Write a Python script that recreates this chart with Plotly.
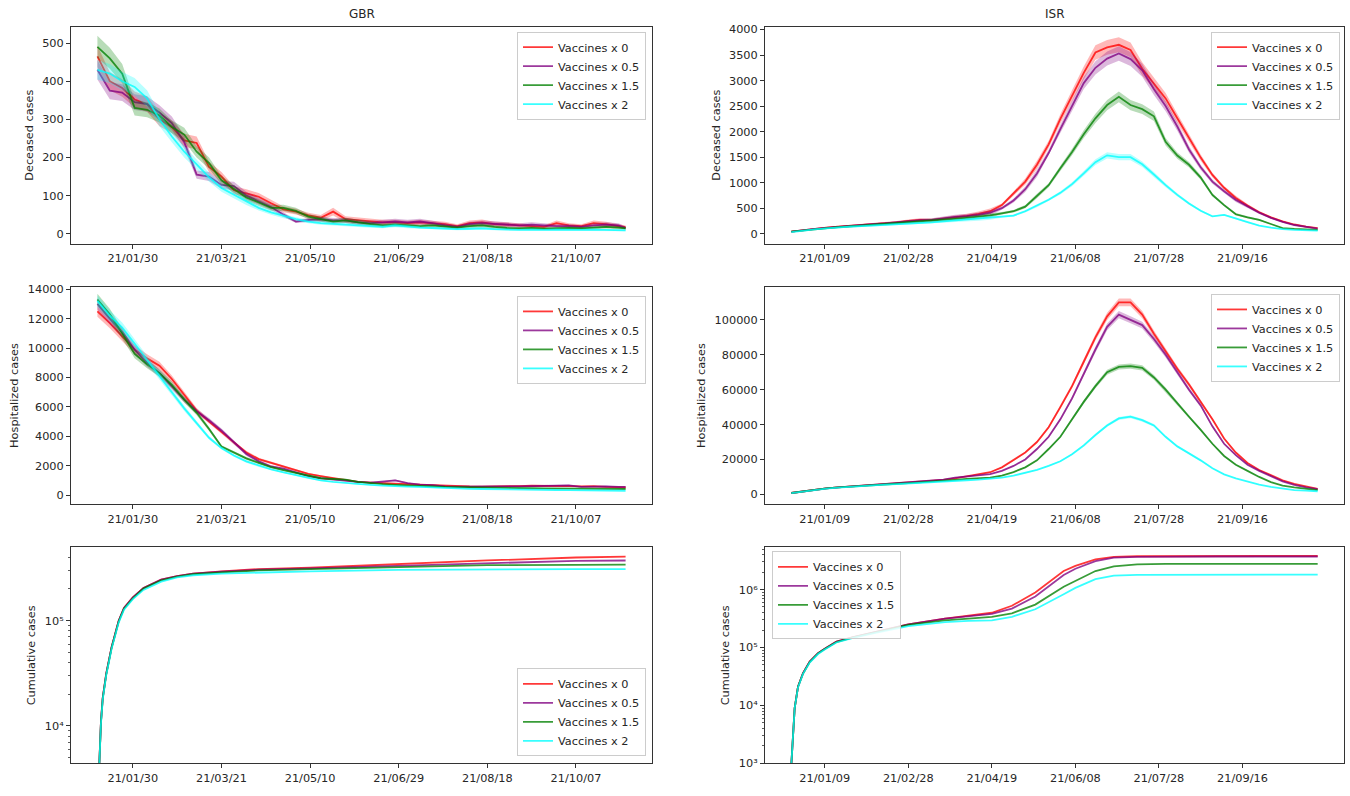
import math
import plotly.graph_objects as go
import pandas as pd

# ---------------- data ----------------
SERIES = ["Vaccines x 0", "Vaccines x 0.5", "Vaccines x 1.5", "Vaccines x 2"]

GBR_DATES = ["2021-01-10","2021-01-17","2021-01-24","2021-01-31","2021-02-07","2021-02-14","2021-02-21","2021-02-28",
             "2021-03-07","2021-03-14","2021-03-21","2021-03-28","2021-04-04","2021-04-11","2021-04-18","2021-04-25",
             "2021-05-02","2021-05-09","2021-05-16","2021-05-23","2021-05-30","2021-06-06","2021-06-13","2021-06-20",
             "2021-06-27","2021-07-04","2021-07-11","2021-07-18","2021-07-25","2021-08-01","2021-08-08","2021-08-15",
             "2021-08-22","2021-08-29","2021-09-05","2021-09-12","2021-09-19","2021-09-26","2021-10-03","2021-10-10",
             "2021-10-17","2021-10-24","2021-10-31","2021-11-04"]

ISR_DATES = ["2020-12-20","2020-12-27","2021-01-03","2021-01-10","2021-01-17","2021-01-24","2021-01-31","2021-02-07",
             "2021-02-14","2021-02-21","2021-02-28","2021-03-07","2021-03-14","2021-03-21","2021-03-28","2021-04-04",
             "2021-04-11","2021-04-18","2021-04-25","2021-05-02","2021-05-09","2021-05-16","2021-05-23","2021-05-30",
             "2021-06-06","2021-06-13","2021-06-20","2021-06-27","2021-07-04","2021-07-11","2021-07-18","2021-07-25",
             "2021-08-01","2021-08-08","2021-08-15","2021-08-22","2021-08-29","2021-09-05","2021-09-12","2021-09-19",
             "2021-09-26","2021-10-03","2021-10-10","2021-10-17","2021-10-24","2021-10-31"]

GBR_TICKS = ["2021-01-30", "2021-03-21", "2021-05-10", "2021-06-29", "2021-08-18", "2021-10-07"]
ISR_TICKS = ["2021-01-09", "2021-02-28", "2021-04-19", "2021-06-08", "2021-07-28", "2021-09-16"]

# GBR deceased
GBR_DEC_X0 = [465,400,382,352,340,300,280,245,238,175,150,114,106,97,80,64,58,48,42,58,38,35,33,30,
              30,28,30,28,25,20,28,30,25,24,22,20,18,28,22,20,28,25,20,17]
GBR_DEC_X05 = [430,375,370,345,340,318,290,240,155,150,128,125,100,85,70,50,32,36,38,35,35,30,28,30,
               32,30,32,28,22,18,25,28,26,24,22,24,22,20,20,18,22,24,22,15]
GBR_DEC_X15 = [490,460,420,330,325,310,280,260,215,185,140,118,95,82,68,68,60,45,38,32,35,30,25,22,
               24,22,20,22,18,16,20,22,18,15,14,15,13,14,15,14,16,18,16,14]
GBR_DEC_X2 = [430,420,400,385,355,300,255,215,182,148,120,103,84,68,56,46,38,32,28,26,24,22,20,18,
              22,18,16,15,14,12,13,14,12,11,10,11,10,11,10,10,11,10,9,9]
GBR_DEC_BAND = [0.06,0.06,0.06,0.06,0.06,0.06,0.06,0.07,0.07,0.08,0.08,0.09,0.10,0.10,0.11,0.12,0.13,0.15,0.17,0.18,
                0.20,0.22,0.22,0.22,0.22,0.22,0.22,0.22,0.25,0.25,0.25,0.25,0.25,0.25,0.25,0.25,0.25,0.25,0.25,0.25,
                0.25,0.25,0.25,0.25]

# GBR hospitalized
GBR_HOS_X0 = [12500,11700,10800,9900,9300,8800,7900,6800,5750,5000,4300,3550,2900,2450,2200,1950,1700,1450,1300,1150,
              1000,900,850,800,780,750,720,680,620,600,590,580,580,600,620,640,650,640,620,600,620,560,540,520]
GBR_HOS_X05 = [13000,12000,11100,9900,9000,8300,7400,6500,5700,5100,4400,3600,2800,2300,1950,1800,1550,1300,1150,1050,
               950,900,850,900,1000,820,720,680,600,580,580,560,560,580,600,620,620,640,660,560,600,600,560,560]
GBR_HOS_X15 = [13300,12300,11000,9600,8900,8300,7500,6500,5600,4500,3300,2900,2500,2200,1900,1700,1500,1300,1150,1100,
               1050,900,800,750,700,650,620,600,560,540,520,500,500,480,480,470,460,450,450,440,420,420,420,420]
GBR_HOS_X2 = [13200,12200,11400,10300,9200,8100,7000,5900,4900,3900,3200,2700,2300,2000,1750,1550,1350,1150,1000,900,
              820,750,700,650,600,580,560,520,480,450,430,420,400,390,380,370,360,350,340,330,320,320,310,300]
GBR_HOS_BAND = [0.03,0.03,0.03,0.03,0.03,0.03,0.03,0.03,0.03,0.03,0.03,0.03,0.04,0.04,0.04,0.04,0.04,0.04,0.04,0.04,
                0.04,0.06,0.06,0.06,0.06,0.06,0.06,0.06,0.06,0.06,0.06,0.06,0.06,0.06,0.06,0.06,0.06,0.06,0.06,0.06,
                0.06,0.06,0.06,0.06]

# GBR cumulative (own sampling dates)
GBR_CUM_DATES = ["2021-01-10","2021-01-11","2021-01-12","2021-01-13","2021-01-15","2021-01-18","2021-01-22","2021-01-25",
                 "2021-01-30","2021-02-05","2021-02-15","2021-02-24","2021-03-05","2021-03-21","2021-04-11","2021-05-10",
                 "2021-06-29","2021-08-18","2021-10-07","2021-11-04"]
GBR_CUM_X0 = [1500,5000,11000,18500,31500,56000,100000,132000,166000,204000,245000,265000,280000,294000,309000,318000,
              347000,373000,398000,405000]
GBR_CUM_X05 = [1500,5000,11000,18500,31500,56000,100000,132000,166000,204000,245000,265000,280000,292000,305000,314000,
               332000,355000,370000,373000]
GBR_CUM_X15 = [1500,4900,10800,18200,31000,55000,98000,130000,163000,202000,242000,262000,276000,288000,300000,309000,
               324000,337000,339000,340000]
GBR_CUM_X2 = [1500,4800,10500,17800,30500,54000,96000,127000,160000,196000,235000,258000,270000,280000,286000,294000,
              304000,308000,309000,309000]

# ISR deceased
ISR_DEC_X0 = [40,70,95,120,140,155,170,185,200,220,250,270,265,290,320,350,390,440,560,780,1020,1350,1750,2250,
              2700,3150,3550,3650,3700,3600,3230,2950,2650,2260,1870,1490,1150,900,700,550,420,320,240,180,140,110]
ISR_DEC_X05 = [40,70,95,115,135,150,170,185,200,215,240,260,270,300,330,345,370,410,500,650,870,1180,1580,2050,
               2500,2950,3250,3430,3530,3420,3200,2830,2500,2100,1650,1300,1020,830,660,530,410,310,230,170,130,100]
ISR_DEC_X15 = [40,65,90,110,130,145,160,175,190,205,225,240,250,270,290,310,330,360,400,440,530,740,950,1280,
               1600,1950,2260,2520,2680,2520,2440,2300,1800,1530,1350,1100,760,560,380,320,270,190,110,95,90,75]
ISR_DEC_X2 = [30,60,85,105,125,140,150,160,170,185,200,210,220,240,260,275,290,310,330,355,440,550,665,800,
              970,1180,1400,1535,1500,1500,1360,1160,950,760,590,450,340,370,300,220,160,120,90,75,70,60]
ISR_DEC_BAND = [0.12,0.12,0.12,0.12,0.12,0.12,0.12,0.12,0.12,0.12,0.12,0.12,0.12,0.12,0.12,0.12,0.12,0.12,
                0.06,0.06,0.06,0.06,0.04,0.04,0.04,0.04,0.04,0.04,0.04,0.04,0.04,0.04,0.04,0.04,0.04,0.04,
                0.04,0.04,0.06,0.06,0.06,0.06,0.06,0.06,0.06,0.06]

# ISR hospitalized
ISR_HOS_X0 = [800,1800,2700,3400,4000,4500,5000,5500,5900,6300,6700,7100,7600,8300,9200,10300,11500,12700,15500,19500,
              24000,30000,38500,50000,62000,76000,90000,102000,110000,110000,103000,92000,82000,72000,63000,53000,43000,
              32000,24000,18000,14000,11000,8000,6000,4500,3200]
ISR_HOS_X05 = [800,1800,2700,3400,4000,4500,5000,5500,5900,6300,6700,7100,7600,8500,9600,10200,10800,11600,13500,16300,
               20000,26000,33000,43000,55000,69000,83000,96000,103000,100000,97000,89000,80000,70000,60000,51000,39000,
               29000,22500,17000,13500,10500,7500,5500,4000,3000]
ISR_HOS_X15 = [800,1800,2700,3400,4000,4500,5000,5400,5800,6100,6400,6800,7200,7700,8300,8900,9300,9600,10800,12800,
               15500,19500,26000,33000,43000,53000,62000,70000,73000,73500,72500,67000,60000,52000,44500,37000,29000,
               22000,17000,13500,10000,7000,5000,4000,3000,2400]
ISR_HOS_X2 = [700,1700,2600,3300,3900,4400,4900,5300,5600,5900,6200,6500,6900,7300,7700,8100,8500,8900,9600,10800,
              12200,14000,16300,19000,23000,28000,34000,39500,43500,44500,42500,39500,33000,27500,23500,19500,15000,
              11500,9200,7200,5600,4300,3200,2500,2100,1800]
ISR_HOS_BAND = [0.02] * 46

# ISR cumulative (own sampling dates)
ISR_CUM_DATES = ["2020-12-20","2020-12-21","2020-12-22","2020-12-24","2020-12-27","2020-12-31","2021-01-05","2021-01-09",
                 "2021-01-16","2021-01-26","2021-02-07","2021-02-28","2021-03-22","2021-04-05","2021-04-19","2021-05-01",
                 "2021-05-15","2021-06-01","2021-06-08","2021-06-20","2021-07-01","2021-07-15","2021-08-01","2021-09-01",
                 "2021-10-01","2021-10-31"]
ISR_CUM_X0 = [950,2900,9000,21000,36000,57000,80000,95000,126000,151000,182000,251000,316000,355000,398000,525000,
              891000,2090000,2570000,3310000,3670000,3760000,3785000,3800000,3800000,3800000]
ISR_CUM_X05 = [950,2900,9000,21000,36000,57000,80000,95000,126000,151000,182000,251000,316000,347000,380000,468000,
               759000,1780000,2290000,3090000,3550000,3670000,3715000,3720000,3720000,3720000]
ISR_CUM_X15 = [950,2900,9000,21000,35500,56000,79000,94000,124000,149000,180000,245000,295000,316000,339000,389000,
               550000,1120000,1410000,2090000,2510000,2720000,2770000,2785000,2785000,2785000]
ISR_CUM_X2 = [950,2900,8900,20500,35000,55000,77000,92000,122000,146000,176000,234000,275000,288000,295000,339000,
              457000,832000,1070000,1510000,1740000,1800000,1805000,1805000,1805000,1805000]

# ---------------- style ----------------
FONT = "DejaVu Sans, Liberation Sans, Arial, sans-serif"
RGB = [(255, 0, 0), (128, 0, 128), (0, 128, 0), (0, 255, 255)]
W, H = 1350, 796
AX = "#333333"
TXT = "#262626"
FS = 11.3


def px_x(v):
    return v / W


def px_y(v):
    return 1 - v / H


COLS = [(71, 652), (765, 1344)]
ROWS = [(23, 243), (287, 507), (551, 770)]

panels = [
    dict(dates=GBR_DATES, vals=[GBR_DEC_X0, GBR_DEC_X05, GBR_DEC_X15, GBR_DEC_X2], band=GBR_DEC_BAND,
         ticks=GBR_TICKS, title="Deceased cases", yr=[-26, 543], ytv=[0, 100, 200, 300, 400, 500], log=False,
         leg=dict(x=px_x(646), y=px_y(28), xanchor="right", yanchor="top")),
    dict(dates=ISR_DATES, vals=[ISR_DEC_X0, ISR_DEC_X05, ISR_DEC_X15, ISR_DEC_X2], band=ISR_DEC_BAND,
         ticks=ISR_TICKS, title="Deceased cases", yr=[-195, 4055], ytv=list(range(0, 4001, 500)), log=False,
         leg=dict(x=px_x(1340), y=px_y(28), xanchor="right", yanchor="top")),
    dict(dates=GBR_DATES, vals=[GBR_HOS_X0, GBR_HOS_X05, GBR_HOS_X15, GBR_HOS_X2], band=GBR_HOS_BAND,
         ticks=GBR_TICKS, title="Hospitalized cases", yr=[-600, 14150], ytv=list(range(0, 14001, 2000)), log=False,
         leg=dict(x=px_x(646), y=px_y(296), xanchor="right", yanchor="top")),
    dict(dates=ISR_DATES, vals=[ISR_HOS_X0, ISR_HOS_X05, ISR_HOS_X15, ISR_HOS_X2], band=ISR_HOS_BAND,
         ticks=ISR_TICKS, title="Hospitalized cases", yr=[-5500, 118800], ytv=list(range(0, 100001, 20000)), log=False,
         leg=dict(x=px_x(1340), y=px_y(294), xanchor="right", yanchor="top")),
    dict(dates=GBR_CUM_DATES, vals=[GBR_CUM_X0, GBR_CUM_X05, GBR_CUM_X15, GBR_CUM_X2], band=None,
         ticks=GBR_TICKS, title="Cumulative cases", yr=[3.645, 5.696], ytv=[1e4, 1e5], log=True,
         xdates=GBR_DATES,
         leg=dict(x=px_x(646), y=px_y(763), xanchor="right", yanchor="bottom")),
    dict(dates=ISR_CUM_DATES, vals=[ISR_CUM_X0, ISR_CUM_X05, ISR_CUM_X15, ISR_CUM_X2], band=None,
         ticks=ISR_TICKS, title="Cumulative cases", yr=[3.0, 6.728], ytv=[1e3, 1e4, 1e5, 1e6], log=True,
         xdates=ISR_DATES,
         leg=dict(x=px_x(772), y=px_y(555), xanchor="left", yanchor="top")),
]

fig = go.Figure()
layout = dict(
    width=W, height=H, margin=dict(l=0, r=0, t=0, b=0),
    paper_bgcolor="white", plot_bgcolor="white",
    font=dict(family=FONT, size=FS, color=TXT),
    showlegend=True, hovermode=False,
)

sup = {"3": "³", "4": "⁴", "5": "⁵", "6": "⁶"}

for i, p in enumerate(panels):
    n = i + 1
    r, c = divmod(i, 2)
    xa = "x" if n == 1 else f"x{n}"
    ya = "y" if n == 1 else f"y{n}"
    lg = "legend" if n == 1 else f"legend{n}"
    xd = pd.to_datetime(p.get("xdates", p["dates"]))
    span = xd.max() - xd.min()
    xr = [xd.min() - span * 0.05, xd.max() + span * 0.05]
    for k in range(4):
        rr, gg, bb = RGB[k]
        v = p["vals"][k]
        if p["band"] is not None:
            up = [a * (1 + b) for a, b in zip(v, p["band"])]
            lo = [a * (1 - b) for a, b in zip(v, p["band"])]
            fig.add_trace(go.Scatter(
                x=p["dates"] + p["dates"][::-1], y=up + lo[::-1], fill="toself",
                fillcolor=f"rgba({rr},{gg},{bb},0.28)", line=dict(width=0), mode="lines",
                showlegend=False, hoverinfo="skip", xaxis=xa, yaxis=ya))
        fig.add_trace(go.Scatter(
            x=p["dates"], y=v, mode="lines", name=SERIES[k],
            line=dict(color=f"rgba({rr},{gg},{bb},0.78)", width=1.8),
            xaxis=xa, yaxis=ya, legend=lg))

    xkey = "xaxis" if n == 1 else f"xaxis{n}"
    ykey = "yaxis" if n == 1 else f"yaxis{n}"
    layout[xkey] = dict(
        domain=[px_x(COLS[c][0]), px_x(COLS[c][1])], anchor=ya, type="date",
        range=[str(xr[0]), str(xr[1])], tickmode="array", tickvals=p["ticks"], tickformat="%y/%m/%d",
        ticks="outside", ticklen=4, tickwidth=1, tickcolor=AX, showline=True, mirror=True,
        linecolor=AX, linewidth=1, showgrid=False, zeroline=False,
        tickfont=dict(family=FONT, size=FS, color=TXT))
    yd = dict(
        domain=[px_y(ROWS[r][1]), px_y(ROWS[r][0])], anchor=xa, range=p["yr"],
        ticks="outside", ticklen=4, tickwidth=1, tickcolor=AX, showline=True, mirror=True,
        linecolor=AX, linewidth=1, showgrid=False, zeroline=False,
        title=dict(text=p["title"], font=dict(family=FONT, size=FS, color=TXT), standoff=6),
        tickfont=dict(family=FONT, size=FS, color=TXT), tickmode="array", tickvals=p["ytv"])
    if p["log"]:
        lo_e, hi_e = int(p["yr"][0]) - 1, int(p["yr"][1]) + 1
        minors = [m * 10 ** e for e in range(lo_e, hi_e + 1) for m in range(2, 10)]
        yd.update(type="log",
                  ticktext=["10" + sup[str(int(round(math.log10(t))))] for t in p["ytv"]],
                  minor=dict(ticks="outside", ticklen=2, tickwidth=0.8, tickcolor=AX,
                             tickmode="array", tickvals=minors))
    else:
        yd.update(tickformat="d")
    layout[ykey] = yd
    layout[lg] = dict(
        **p["leg"], bgcolor="rgba(255,255,255,0.85)", bordercolor="#cccccc", borderwidth=1,
        font=dict(family=FONT, size=FS, color=TXT), tracegroupgap=0, itemwidth=30,
        traceorder="normal")

fig.update_layout(**layout)
fig.add_annotation(text="GBR", x=px_x((COLS[0][0] + COLS[0][1]) / 2), y=px_y(10), xref="paper", yref="paper",
                   showarrow=False, font=dict(family=FONT, size=12, color=TXT), xanchor="center", yanchor="middle")
fig.add_annotation(text="ISR", x=px_x((COLS[1][0] + COLS[1][1]) / 2), y=px_y(10), xref="paper", yref="paper",
                   showarrow=False, font=dict(family=FONT, size=12, color=TXT), xanchor="center", yanchor="middle")

fig.write_html("out.html",
               config={"displayModeBar": False, "staticPlot": True},
               post_script="document.body.style.margin='0';document.body.style.overflow='hidden';")
